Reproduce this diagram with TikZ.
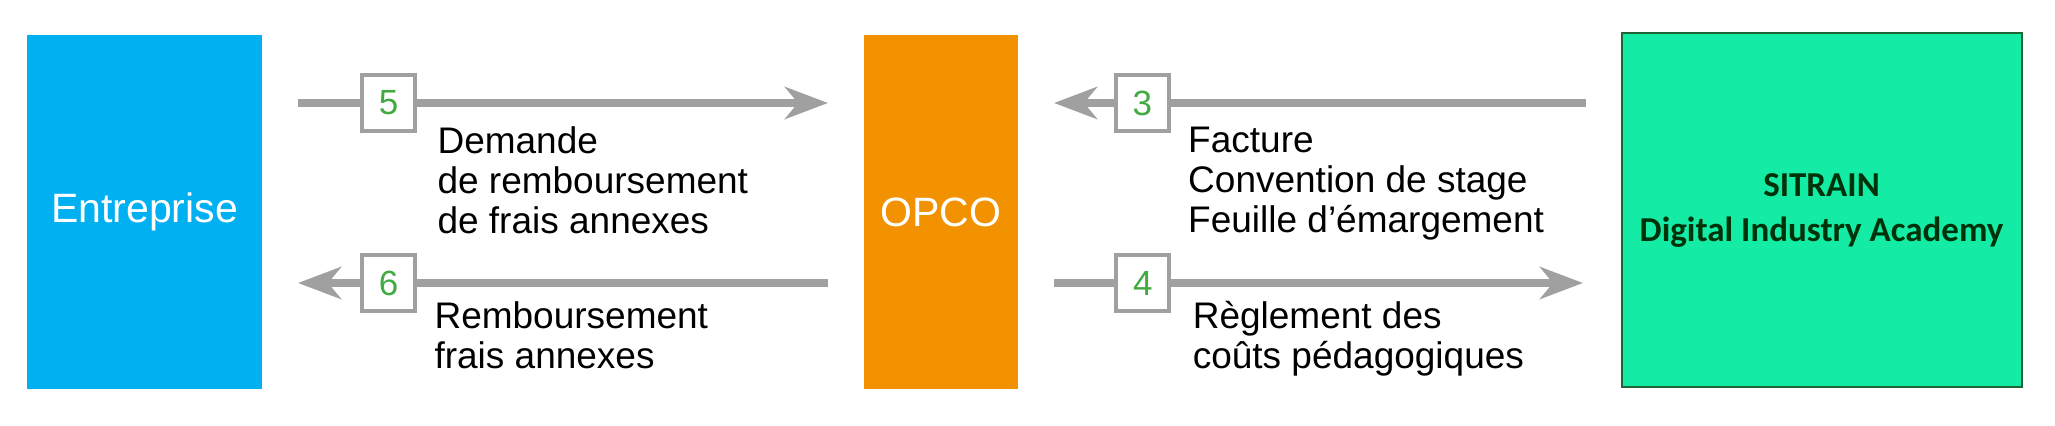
\documentclass[tikz,border=0pt]{standalone}
\usepackage{fontspec}
\setmainfont{Liberation Sans}
\newfontfamily\carlito{Carlito}
\usetikzlibrary{arrows.meta}
\usetikzlibrary{calc}
\usepackage{xcolor}
\definecolor{entblue}{RGB}{0,176,240}
\definecolor{opcoorange}{RGB}{242,146,0}
\definecolor{sitgreen}{RGB}{20,235,165}
\definecolor{sitborder}{RGB}{30,100,55}
\definecolor{sittext}{RGB}{0,50,10}
\definecolor{flowgray}{RGB}{160,160,160}
\definecolor{numgreen}{RGB}{65,170,65}

\tikzset{
    flow/.style={line width=4pt, color=flowgray, -{Stealth[length=21.5pt, width=16pt, inset=6.5pt]}},
    numbox/.style={draw=flowgray, line width=2pt, fill=white, minimum width=26.5pt, minimum height=28pt, inner sep=0pt, text=numgreen, font=\fontsize{17.5}{20}\selectfont},
    lbl/.style={anchor=base west, inner sep=0pt, align=left, font=\fontsize{18.5}{20}\selectfont},
    party/.style={inner sep=0pt, minimum height=177pt, text=white, font=\fontsize{20.5}{24}\selectfont}
}

\begin{document}
\begin{tikzpicture}[x=0.5pt, y=-0.5pt]
        \useasboundingbox (0,0) rectangle (2055,426);

        \node[party, fill=entblue, minimum width=117.5pt] (ent) at (144.5,212) {Entreprise};
        \node[party, fill=opcoorange, minimum width=77pt] (opco) at (941,212) {OPCO};
        \node[fill=sitgreen, draw=sitborder, line width=1pt, inner sep=0pt, minimum width=200pt, minimum height=177pt, align=center, text=sittext, font=\carlito\bfseries\fontsize{17.5}{22.5}\selectfont] (sit) at (1821.5,210.5) {SITRAIN\\Digital Industry Academy};

        \coordinate (A5) at (298,103);
        \coordinate (B5) at (828,103);
        \coordinate (A3) at (1586,103);
        \coordinate (B3) at (1054,103);
        \coordinate (A6) at (828,283);
        \coordinate (B6) at (298,283);
        \coordinate (A4) at (1054,283);
        \coordinate (B4) at (1583,283);

        \draw[flow] (A5) -- (B5) node[numbox, pos=0.171] (n5) {5};
        \draw[flow] (A3) -- (B3) node[numbox, pos=0.834] (n3) {3};
        \draw[flow] (A6) -- (B6) node[numbox, pos=0.829] (n6) {6};
        \draw[flow] (A4) -- (B4) node[numbox, pos=0.168] (n4) {4};

        \node[lbl] (l5) at ($(n5.south east)+(20,101)$) {Demande\\de remboursement\\de frais annexes};
        \node[lbl] (l3) at ($(n3.south east)+(17,100)$) {Facture\\Convention de stage\\Feuille d’émargement};
        \node[lbl] (l6) at ($(n6.south east)+(17,56)$) {Remboursement\\frais annexes};
        \node[lbl] (l4) at ($(n4.south east)+(21,56)$) {Règlement des\\coûts pédagogiques};
    \end{tikzpicture}
\end{document}
